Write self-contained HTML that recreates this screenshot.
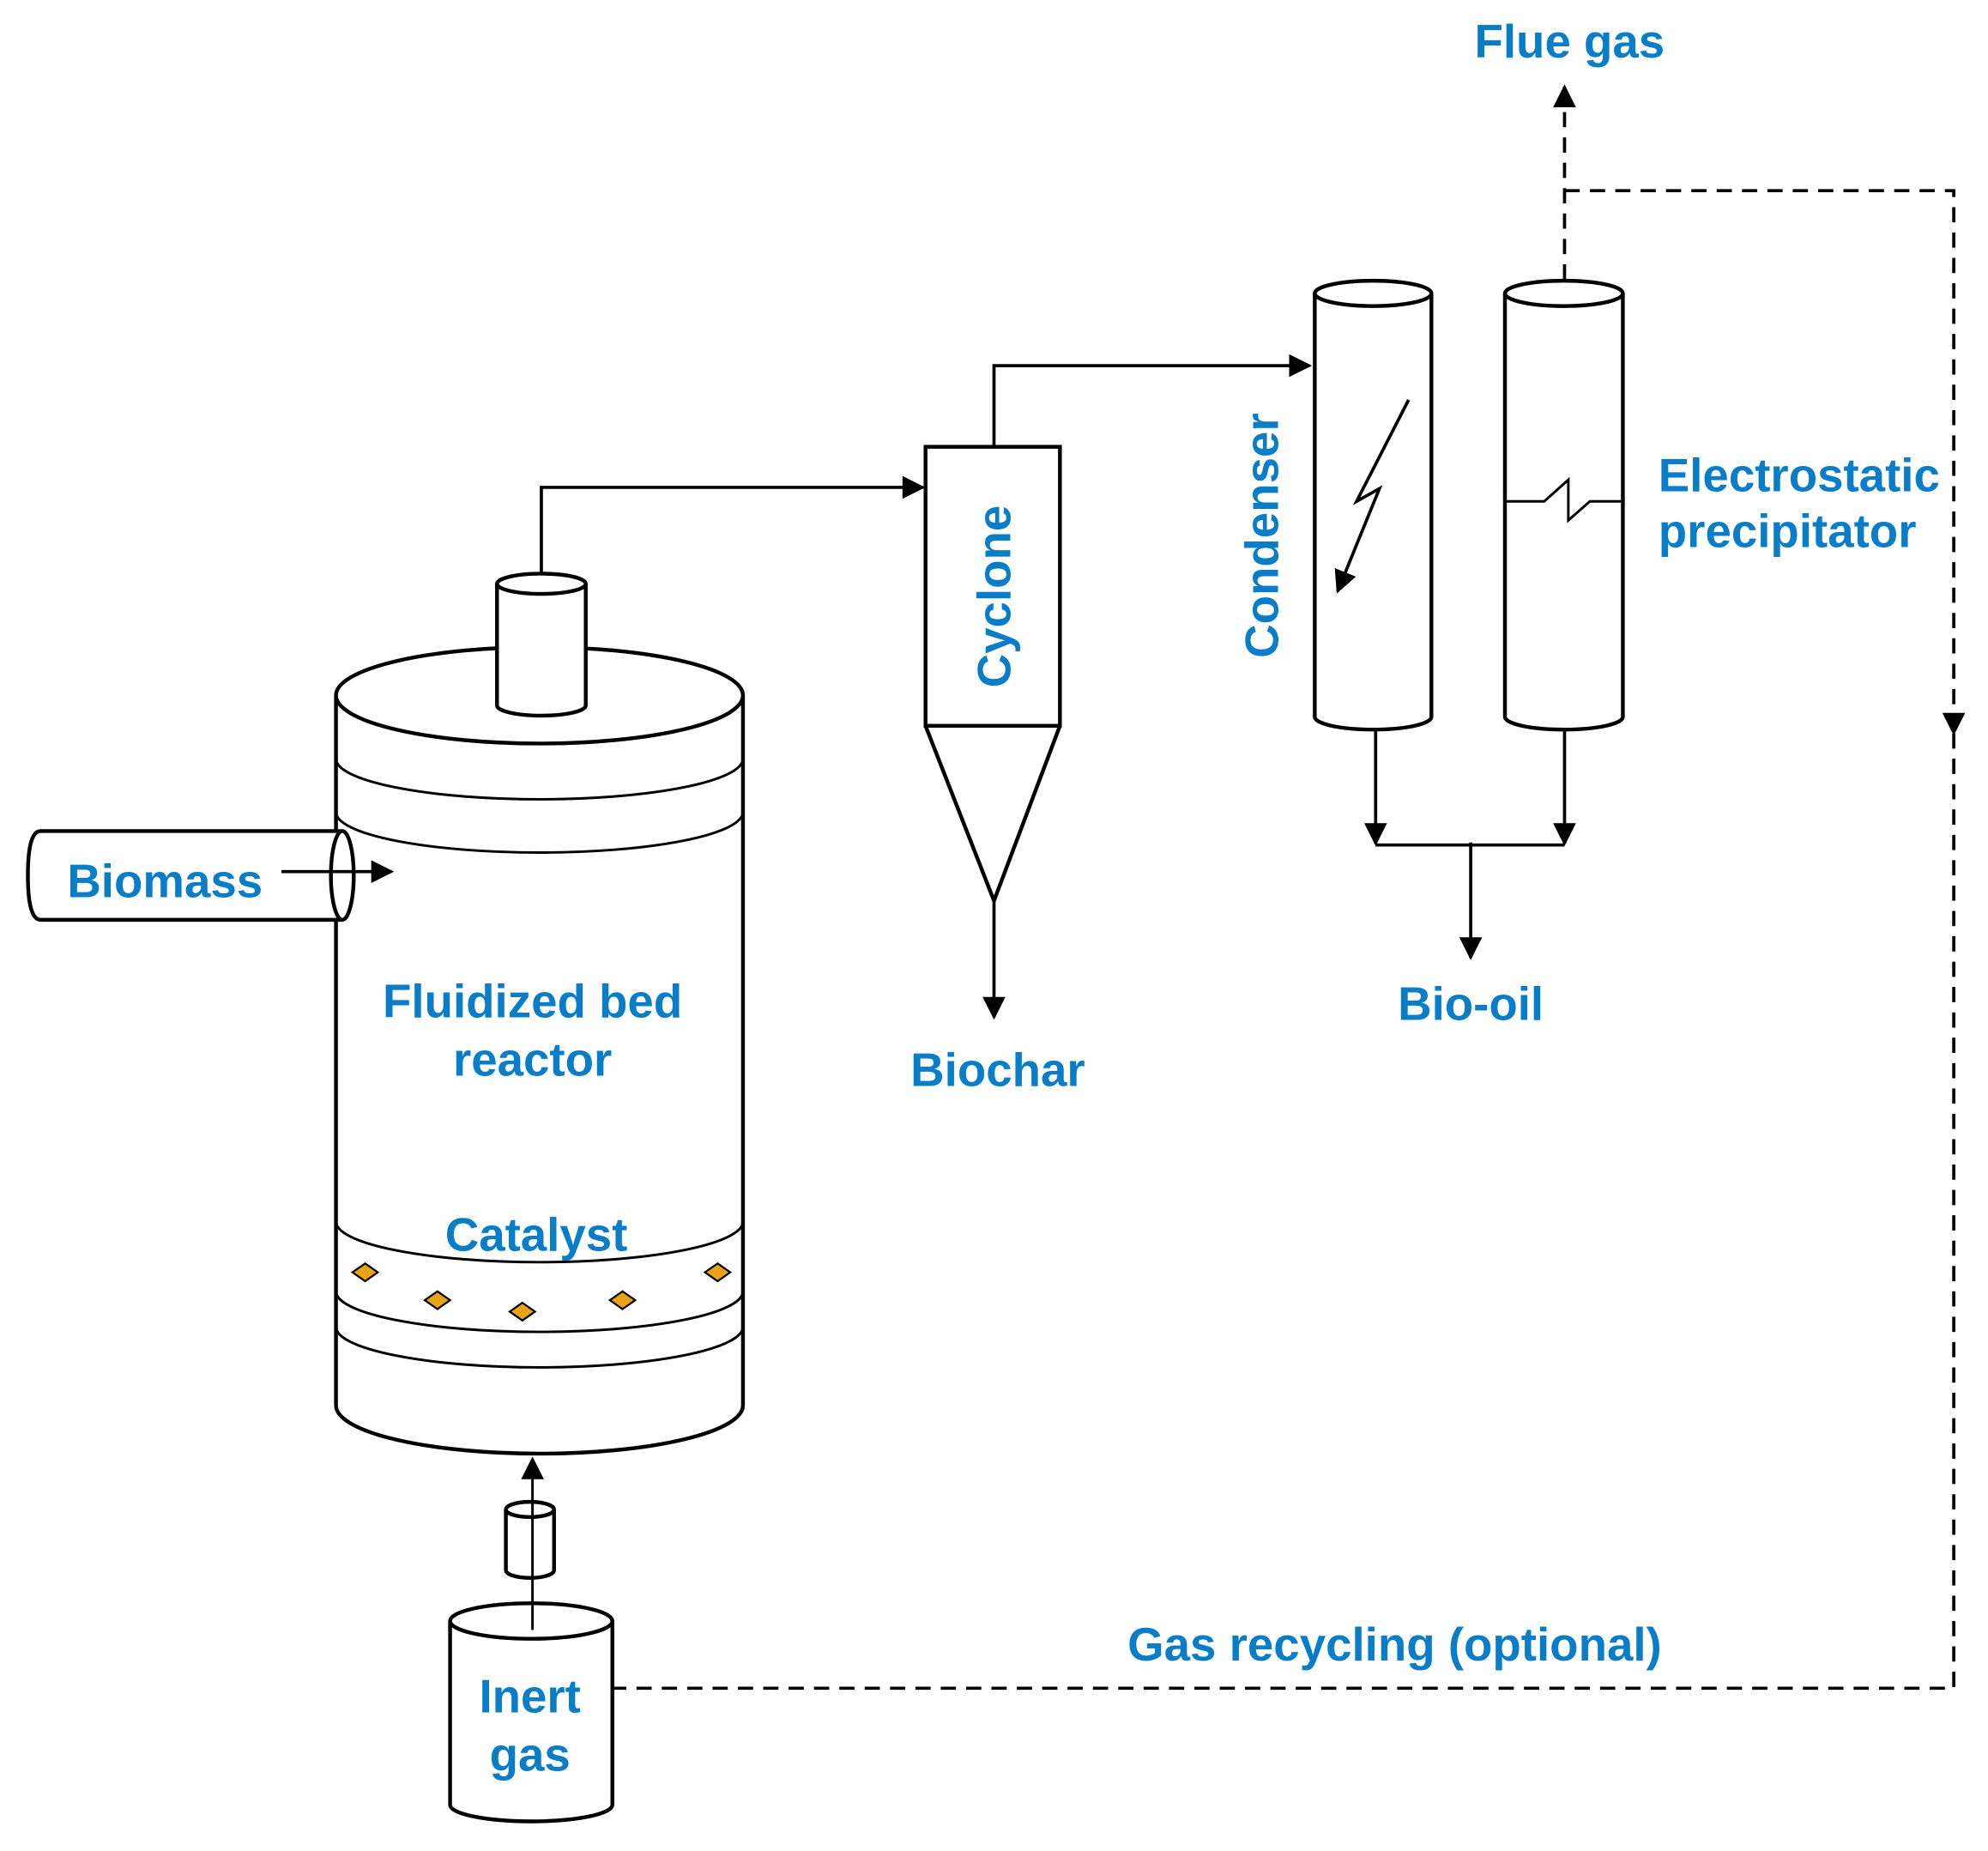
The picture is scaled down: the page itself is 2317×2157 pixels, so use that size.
<!DOCTYPE html>
<html><head><meta charset="utf-8"><style>
html,body{margin:0;padding:0;background:#fff;}
svg{display:block;}
text{font-family:"Liberation Sans",Arial,sans-serif;font-weight:bold;fill:#0a7dc8;font-size:37px;}
</style></head><body>
<svg width="2317" height="2157" viewBox="0 0 1568 1459" xmlns="http://www.w3.org/2000/svg">
<defs>
<marker id="a" viewBox="0 0 10 10" refX="9" refY="5" markerWidth="22" markerHeight="18" markerUnits="userSpaceOnUse" orient="auto"><path d="M0,0 L10,5 L0,10 z" fill="#000"/></marker>
</defs>
<g fill="none" stroke="#000" stroke-width="3">
<path d="M265,548 L265,1108 A160.5,38 0 0 0 586,1108 L586,548" fill="#fff"/>
<ellipse cx="425.5" cy="548" rx="160.5" ry="38" fill="#fff"/>
<path d="M265,598 A160.5,32 0 0 0 586,598" stroke-width="2"/>
<path d="M265,640 A160.5,32 0 0 0 586,640" stroke-width="2"/>
<path d="M265,963 A160.5,32 0 0 0 586,963" stroke-width="2"/>
<path d="M265,1018 A160.5,32 0 0 0 586,1018" stroke-width="2"/>
<path d="M265,1046 A160.5,32 0 0 0 586,1046" stroke-width="2"/>
<path d="M392,460 L392,556 A35,8 0 0 0 462,556 L462,460" fill="#fff"/>
<ellipse cx="427" cy="460" rx="35" ry="8" fill="#fff"/>
<path d="M427,452 L427,384 L728,384" stroke-width="2.5" marker-end="url(#a)"/>
<path d="M270,655 L32,655 Q22,655 22,690 Q22,725 32,725 L270,725" fill="#fff"/>
<ellipse cx="270" cy="690" rx="9" ry="35" fill="#fff"/>
<path d="M222,687 L309,687" stroke-width="2.5" marker-end="url(#a)"/>
<rect x="730" y="352" width="106" height="220" fill="#fff"/>
<path d="M730,572 L784,710 L836,572"/>
<path d="M784,710 L784,802" stroke-width="2.5" marker-end="url(#a)"/>
<path d="M784,352 L784,288 L1033,288" stroke-width="2.5" marker-end="url(#a)"/>
<path d="M1037,231 L1037,565 A46,10 0 0 0 1129,565 L1129,231"/>
<ellipse cx="1083" cy="231" rx="46" ry="10"/>
<path d="M1111,315 L1070,395 L1088,385 L1055,466" stroke-width="2.5" marker-end="url(#a)"/>
<path d="M1187,231 L1187,565 A46.5,10 0 0 0 1280,565 L1280,231"/>
<ellipse cx="1233.5" cy="231" rx="46.5" ry="10"/>
<path d="M1187,395 L1218,395 L1237,378 L1237,410 L1254,395 L1280,395" stroke-width="2"/>
<path d="M1085,575 L1085,665" stroke-width="2.5" marker-end="url(#a)"/>
<path d="M1234,575 L1234,665" stroke-width="2.5" marker-end="url(#a)"/>
<path d="M1085,666 L1234,666" stroke-width="2.5"/>
<path d="M1160,664 L1160,755" stroke-width="2.5" marker-end="url(#a)"/>
<path d="M1234,220 L1234,68" stroke-width="2.5" stroke-dasharray="12,8" marker-end="url(#a)"/>
<path d="M1234,150 L1541,150 L1541,578" stroke-width="2.5" stroke-dasharray="12,8" marker-end="url(#a)"/>
<path d="M1541,578 L1541,1331 L484,1331" stroke-width="2.5" stroke-dasharray="12,8"/>
<path d="M355,1278 L355,1423 A64,13 0 0 0 483,1423 L483,1278" fill="#fff"/>
<ellipse cx="419" cy="1278" rx="64" ry="14" fill="#fff"/>
<path d="M399,1190 L399,1238 A19,6 0 0 0 437,1238 L437,1190"/>
<ellipse cx="418" cy="1190" rx="19" ry="6"/>
<path d="M420,1285 L420,1150" stroke-width="2" marker-end="url(#a)"/>
</g>
<g fill="#e8a317" stroke="#000" stroke-width="1.5">
<path d="M288,996 L298,1003 L288,1010 L278,1003 z"/>
<path d="M345,1018 L355,1025 L345,1032 L335,1025 z"/>
<path d="M412,1027 L422,1034 L412,1041 L402,1034 z"/>
<path d="M491,1018 L501,1025 L491,1032 L481,1025 z"/>
<path d="M566,996 L576,1003 L566,1010 L556,1003 z"/>
</g>
<text x="1238" y="45" text-anchor="middle">Flue gas</text>
<text x="1308" y="387">Electrostatic</text>
<text x="1308" y="431">precipitator</text>
<text transform="translate(1008,422) rotate(-90)" text-anchor="middle">Condenser</text>
<text transform="translate(797,470) rotate(-90)" text-anchor="middle">Cyclone</text>
<text x="787" y="856" text-anchor="middle">Biochar</text>
<text x="1160" y="804" text-anchor="middle">Bio-oil</text>
<text x="420" y="802" text-anchor="middle">Fluidized bed</text>
<text x="420" y="848" text-anchor="middle">reactor</text>
<text x="423" y="986" text-anchor="middle">Catalyst</text>
<text x="53" y="707">Biomass</text>
<text x="418" y="1350" text-anchor="middle">Inert</text>
<text x="418" y="1396" text-anchor="middle">gas</text>
<text x="1100" y="1309" text-anchor="middle">Gas recycling (optional)</text>
</svg>
</body></html>
